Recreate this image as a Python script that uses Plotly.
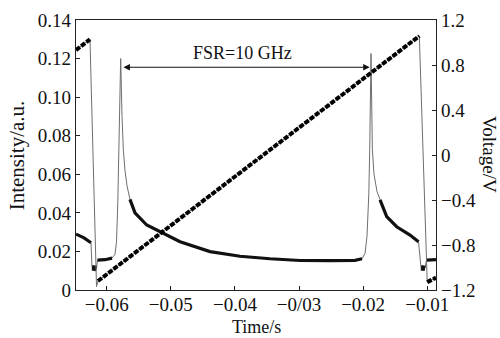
import plotly.graph_objects as go

# ---------------- data ----------------
# Intensity trace (time in s, intensity in a.u.)
t_int = [-0.06479, -0.06354, -0.06245, -0.06229, -0.06159, -0.06144, -0.06027, -0.05917,
         -0.05871, -0.05847, -0.05827, -0.05808, -0.05782, -0.05761, -0.05741, -0.05715,
         -0.05683, -0.05637, -0.05559, -0.05376, -0.05142, -0.04856, -0.04388, -0.03920,
         -0.03452, -0.02984, -0.02516, -0.02126, -0.02017, -0.01970, -0.01939, -0.01911,
         -0.01897, -0.01877, -0.01856, -0.01830, -0.01783, -0.01736, -0.01632, -0.01476,
         -0.01268, -0.01136, -0.01112, -0.01097, -0.01034, -0.01011, -0.00863]
intensity = [0.0290, 0.0270, 0.0245, 0.0115, 0.0112, 0.0155, 0.0157, 0.0165,
             0.0185, 0.0250, 0.0450, 0.0750, 0.1200, 0.0900, 0.0730, 0.0620,
             0.0540, 0.0470, 0.0400, 0.0337, 0.0296, 0.0250, 0.0199, 0.0175,
             0.0162, 0.0153, 0.0152, 0.0154, 0.0162, 0.0190, 0.0280, 0.0500,
             0.0730, 0.1226, 0.0730, 0.0600, 0.0510, 0.0467, 0.0380, 0.0328,
             0.0285, 0.0250, 0.0180, 0.0115, 0.0112, 0.0155, 0.0158]
# index ranges of the noisy (thick) parts of the intensity trace
noisy_ranges = [(0, 2), (5, 7), (17, 28), (37, 41), (45, 46)]
blob_ranges = [(3, 4), (43, 44)]

# Voltage ramp (time in s, voltage in V)
t_volt = [-0.06479, -0.06261, -0.06159, -0.06136, -0.01123, -0.01000, -0.00863]
voltage = [0.933, 1.028, -1.17, -1.12, 1.058, -1.13, -1.09]
ramp_ranges = [(0, 1), (3, 4), (5, 6)]

# peaks marked by the FSR arrow
peak_times = [-0.05778, -0.01882]
fsr_level = 0.1155
fsr_label = "FSR=10 GHz"

x_ticks = [-0.06, -0.05, -0.04, -0.03, -0.02, -0.01]
x_ticktext = ["\u22120.06", "\u22120.05", "\u22120.04", "\u22120/03", "\u22120.02", "\u22120.01"]
y_ticks = [0, 0.02, 0.04, 0.06, 0.08, 0.10, 0.12, 0.14]
y_ticktext = ["0", "0.02", "0.04", "0.06", "0.08", "0.10", "0.12", "0.14"]
y2_ticks = [-1.2, -0.8, -0.4, 0, 0.4, 0.8, 1.2]
y2_ticktext = ["\u22121.2", "\u22120.8", "\u22120.4", "0", "0.4", "0.8", "1.2"]


def segments(xs, ys, ranges):
    ox, oy = [], []
    for a, b in ranges:
        ox += xs[a:b + 1] + [None]
        oy += ys[a:b + 1] + [None]
    return ox, oy


FONT = "Liberation Serif, Times New Roman, serif"
fig = go.Figure()

# thin full intensity trace
fig.add_trace(go.Scatter(x=t_int, y=intensity, mode="lines",
                         line=dict(color="#6e6e6e", width=1), showlegend=False, hoverinfo="skip"))
nx, ny = segments(t_int, intensity, noisy_ranges)
fig.add_trace(go.Scatter(x=nx, y=ny, mode="lines",
                         line=dict(color="#111111", width=3.2), showlegend=False, hoverinfo="skip"))
bx, by = segments(t_int, intensity, blob_ranges)
fig.add_trace(go.Scatter(x=bx, y=by, mode="lines",
                         line=dict(color="#111111", width=5.5), showlegend=False, hoverinfo="skip"))

# voltage: thin drops + thick stair-like ramp
fig.add_trace(go.Scatter(x=t_volt, y=voltage, mode="lines", yaxis="y2",
                         line=dict(color="#6e6e6e", width=1), showlegend=False, hoverinfo="skip"))
rx, ry = segments(t_volt, voltage, ramp_ranges)
fig.add_trace(go.Scatter(x=rx, y=ry, mode="lines", yaxis="y2",
                         line=dict(color="#000000", width=4, dash="5px,1.5px"),
                         showlegend=False, hoverinfo="skip"))

# FSR double arrow
fig.add_annotation(x=peak_times[1], y=fsr_level, ax=peak_times[0], ay=fsr_level,
                   xref="x", yref="y", axref="x", ayref="y", text="",
                   showarrow=True, arrowhead=2, startarrowhead=2, arrowside="end+start",
                   arrowsize=1.3, arrowwidth=1, arrowcolor="#111111", standoff=1, startstandoff=1)
fig.add_annotation(x=(peak_times[0] + peak_times[1]) / 2 - 0.0005, y=fsr_level, xref="x", yref="y",
                   text=fsr_label, showarrow=False, yanchor="bottom", yshift=2,
                   font=dict(family=FONT, size=18, color="#111111"))

# axis titles
fig.add_annotation(x=-0.163, y=0.5, xref="paper", yref="paper", text="Intensity/a.u.",
                   textangle=-90, showarrow=False, xanchor="center", yanchor="middle",
                   font=dict(family=FONT, size=21, color="#111111"))
fig.add_annotation(x=1.150, y=0.5, xref="paper", yref="paper", text="Voltage/V",
                   textangle=90, showarrow=False, xanchor="center", yanchor="middle",
                   font=dict(family=FONT, size=19, color="#111111"))
fig.add_annotation(x=0.5, y=-0.1778, xref="paper", yref="paper", text="Time/s",
                   showarrow=False, xanchor="center", yanchor="bottom", borderpad=0,
                   font=dict(family=FONT, size=18, color="#111111"))

axis_common = dict(showgrid=False, zeroline=False, ticks="inside", ticklen=4, tickwidth=1,
                   tickcolor="#222222", linecolor="#222222", linewidth=1.3, showline=True,
                   automargin=False,
                   tickfont=dict(family=FONT, size=19, color="#111111"))

fig.update_layout(
    width=500, height=338,
    margin=dict(l=76, r=64, t=20, b=48),
    plot_bgcolor="white", paper_bgcolor="white",
    xaxis=dict(range=[-0.06479, -0.00863], tickvals=x_ticks, ticktext=x_ticktext,
               mirror=True, ticklabelstandoff=-3, **axis_common),
    yaxis=dict(range=[0, 0.14], tickvals=y_ticks, ticktext=y_ticktext, **axis_common),
    yaxis2=dict(range=[-1.2, 1.2], tickvals=y2_ticks, ticktext=y2_ticktext,
                overlaying="y", side="right", **axis_common),
)

fig.write_html("out.html")
